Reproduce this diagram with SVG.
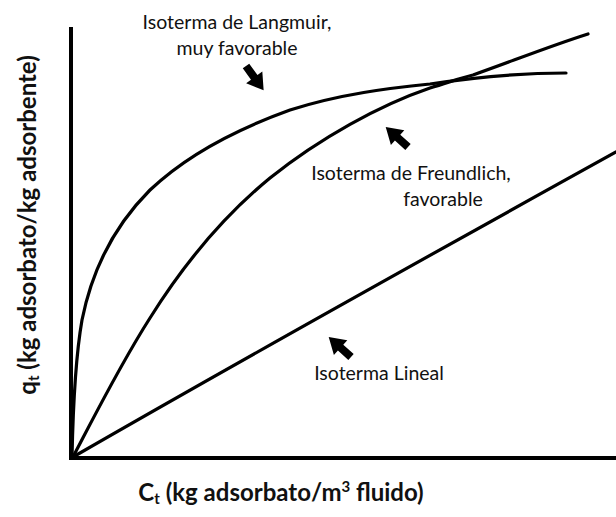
<svg xmlns="http://www.w3.org/2000/svg" width="616" height="517" viewBox="0 0 616 517">
<style>
.curve{fill:none;stroke:#000;stroke-width:3.2;stroke-linecap:round;stroke-linejoin:round}
.axis{fill:none;stroke:#000;stroke-width:4;stroke-linecap:square}
.lbl{font-family:Lato,"Liberation Sans",sans-serif;font-size:19.5px;fill:#111;text-anchor:middle}
.ax{font-family:Lato,"Liberation Sans",sans-serif;font-size:24px;font-weight:bold;fill:#111;text-anchor:middle}
.arr{fill:#000}
</style>
<defs>
<path id="blk" d="M0,-4 H14 V-10 L30,0 L14,10 V4 H0 Z"/>
</defs>
<rect width="616" height="517" fill="#fff"/>
<g id="axes">
<line class="axis" x1="71" y1="29" x2="71" y2="458"/>
<line class="axis" x1="71" y1="458" x2="616" y2="458"/>
</g>
<g id="connectors">
<path id="langmuir" class="curve" d="M72,457 C73,410 75,360 82,320 C92,270 115,225 150,190 C190,152 240,128 290,110 C340,94 390,88 430,84 C470,78 520,73 566,73"/>
<path id="freundlich" class="curve" d="M73,457 C95,415 120,365 150,318 C185,262 225,215 270,178 C320,138 380,105 430,88 C450,82 460,78 473,75 C510,62 550,46 588,34"/>
<path id="lineal" class="curve" d="M73,457 C250,355 430,255 616,152"/>
</g>
<g id="arrows" class="arr">
<use href="#blk" transform="translate(246,66) rotate(54)"/>
<use href="#blk" transform="translate(408,147) rotate(-138)"/>
<use href="#blk" transform="translate(351,357) rotate(-138)"/>
</g>
<g id="label-langmuir">
<text class="lbl" x="237" y="29">Isoterma de Langmuir,</text>
<text class="lbl" x="237" y="55">muy favorable</text>
</g>
<g id="label-freundlich">
<text class="lbl" x="411" y="180">Isoterma de Freundlich,</text>
<text class="lbl" x="443" y="206">favorable</text>
</g>
<g id="label-lineal">
<text class="lbl" x="379" y="380">Isoterma Lineal</text>
</g>
<g id="y-label">
<text class="ax" transform="translate(36,225) rotate(-90)">q<tspan font-size="15" dy="3">t</tspan><tspan dy="-3"> (kg adsorbato/kg adsorbente)</tspan></text>
</g>
<g id="x-label">
<text class="ax" x="281" y="501">C<tspan font-size="15" dy="3">t</tspan><tspan dy="-3"> (kg adsorbato/m</tspan><tspan font-size="15" dy="-9">3</tspan><tspan dy="9"> fluido)</tspan></text>
</g>
</svg>
